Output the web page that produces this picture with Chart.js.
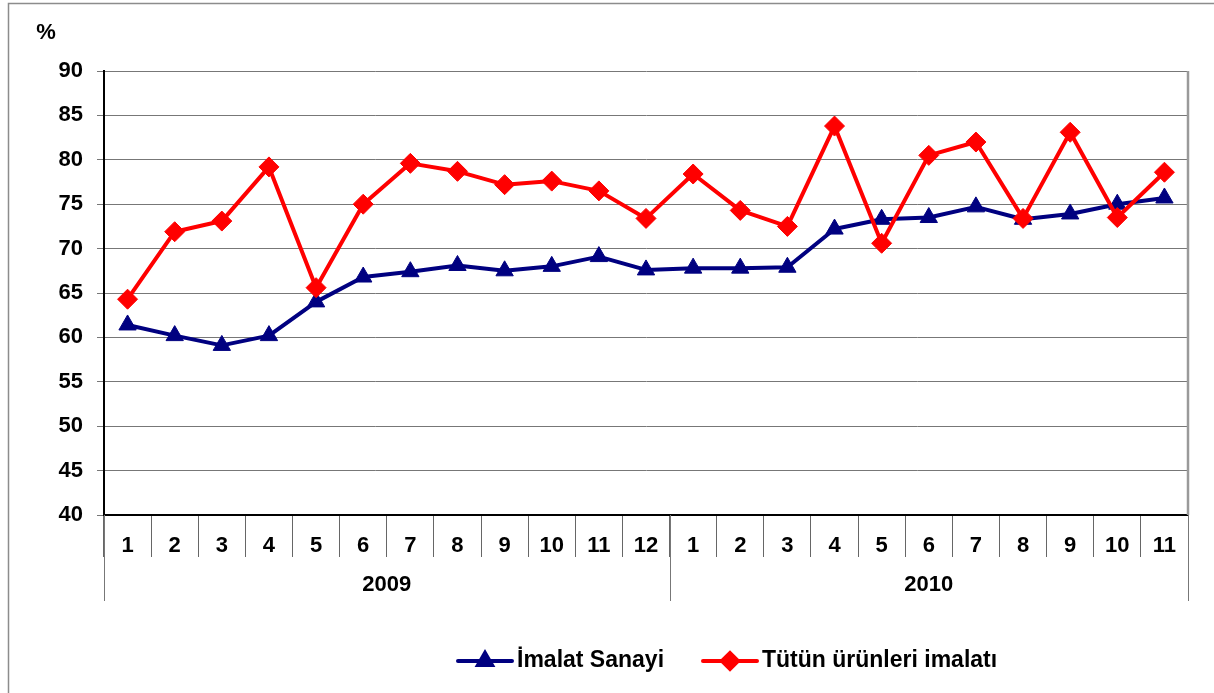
<!DOCTYPE html>
<html>
<head>
<meta charset="utf-8">
<script src="https://cdn.jsdelivr.net/npm/chart.js@4/dist/chart.umd.min.js"></script>
<style>
  html, body { margin: 0; padding: 0; background: #fff; }
  #wrap { width: 1214px; height: 693px; position: relative; }
</style>
</head>
<body>
<div id="wrap"><canvas id="chart"></canvas></div>
<script>
// Chart data
const months = ['1', '2', '3', '4', '5', '6', '7', '8', '9', '10', '11', '12',
                '1', '2', '3', '4', '5', '6', '7', '8', '9', '10', '11'];
const years = ['2009', '2010'];
const yearSpans = [12, 11];   // number of months in each year group

const imalatSanayi = [61.4, 60.2, 59.1, 60.2, 64.0, 66.8, 67.4, 68.1, 67.5, 68.0, 69.1, 67.6,
                      67.8, 67.8, 67.9, 72.2, 73.3, 73.5, 74.7, 73.3, 73.9, 75.0, 75.7];
const tutunUrunleri = [64.3, 71.9, 73.1, 79.2, 65.6, 75.0, 79.6, 78.7, 77.2, 77.6, 76.5, 73.4,
                       78.4, 74.3, 72.5, 83.8, 70.6, 80.5, 82.0, 73.4, 83.1, 73.5, 78.6];

const FONT = '"Liberation Sans", Arial, sans-serif';

// Frame, year row, unit label and legend
const extrasPlugin = {
  id: 'extras',
  beforeDraw(chart) {
    const ctx = chart.ctx;
    ctx.save();
    ctx.strokeStyle = '#8c8c8c';
    ctx.lineWidth = 1.5;
    ctx.strokeRect(8.5, 3.5, 1400, 900);
    ctx.restore();
  },
  afterDraw(chart) {
    const ctx = chart.ctx;
    const x = chart.scales.x;
    const area = chart.chartArea;
    const step = (x.right - x.left) / months.length;

    ctx.save();
    // plot right border
    ctx.strokeStyle = '#9a9a9a';
    ctx.lineWidth = 2.5;
    ctx.beginPath();
    ctx.moveTo(area.right, area.top);
    ctx.lineTo(area.right, area.bottom);
    ctx.stroke();

    // year group separators and labels
    ctx.strokeStyle = '#777';
    ctx.lineWidth = 1;
    ctx.fillStyle = '#000';
    ctx.font = 'bold 22px ' + FONT;
    ctx.textAlign = 'center';
    ctx.textBaseline = 'middle';
    let start = 0;
    const bounds = [x.left];
    years.forEach((yr, i) => {
      const end = start + yearSpans[i];
      const l = x.left + start * step;
      const r = x.left + end * step;
      bounds.push(r);
      ctx.fillText(yr, (l + r) / 2, 585);
      start = end;
    });
    bounds.forEach(bx => {
      const px = Math.round(bx) + 0.5;
      ctx.beginPath();
      ctx.moveTo(px, area.bottom);
      ctx.lineTo(px, 601);
      ctx.stroke();
    });

    // unit label
    ctx.fillText('%', 46, 33);

    // legend
    const items = [
      { ds: chart.data.datasets[0], x: 458 },
      { ds: chart.data.datasets[1], x: 703 }
    ];
    const ly = 661;
    items.forEach(it => {
      ctx.strokeStyle = it.ds.borderColor;
      ctx.lineWidth = 4;
      ctx.lineCap = 'round';
      ctx.beginPath();
      ctx.moveTo(it.x, ly);
      ctx.lineTo(it.x + 54, ly);
      ctx.stroke();
      Chart.helpers.drawPoint(ctx, {
        pointStyle: it.ds.pointStyle,
        radius: 8,
        borderWidth: 1
      }, it.x + 27, ly);
      ctx.fillStyle = it.ds.backgroundColor;
      ctx.strokeStyle = it.ds.borderColor;
      ctx.fill();
      ctx.fillStyle = '#000';
      ctx.font = 'bold 23px ' + FONT;
      ctx.textAlign = 'left';
      ctx.fillText(it.ds.label, it.x + 59, ly);
    });
    ctx.restore();
  }
};

function renderChart() {
  const ctx = document.getElementById('chart');

  new Chart(ctx, {
    type: 'line',
    data: {
      labels: months,
      datasets: [
        {
          label: 'İmalat Sanayi',
          data: imalatSanayi,
          order: 2,
          borderColor: '#000080',
          backgroundColor: '#000080',
          borderWidth: 4,
          pointStyle: 'triangle',
          pointRadius: 10,
          pointBorderWidth: 1,
          borderJoinStyle: 'round',
          tension: 0
        },
        {
          label: 'Tütün ürünleri imalatı',
          data: tutunUrunleri,
          order: 1,
          borderColor: '#ff0000',
          backgroundColor: '#ff0000',
          borderWidth: 4,
          pointStyle: 'rectRot',
          pointRadius: 10,
          pointBorderWidth: 1,
          borderJoinStyle: 'round',
          tension: 0
        }
      ]
    },
    options: {
      responsive: true,
      maintainAspectRatio: false,
      animation: false,
      layout: {
        padding: { top: 71, right: 26, bottom: 92, left: 0 }
      },
      plugins: {
        legend: { display: false },
        tooltip: { enabled: false }
      },
      scales: {
        x: {
          type: 'category',
          offset: true,
          afterFit: (scale) => { scale.height = 86; },
          grid: {
            offset: true,
            drawOnChartArea: false,
            tickLength: 42,
            color: '#666',
            lineWidth: 1
          },
          border: { color: '#000', width: 2 },
          ticks: {
            autoSkip: false,
            maxRotation: 0,
            padding: -24,
            color: '#000',
            font: { family: FONT, size: 22, weight: 'bold' }
          }
        },
        y: {
          min: 40,
          max: 90,
          afterFit: (scale) => { scale.width = 104; },
          grid: {
            color: '#777',
            lineWidth: 1,
            tickLength: 7
          },
          border: { color: '#000', width: 2 },
          ticks: {
            stepSize: 5,
            padding: 14,
            color: '#000',
            font: { family: FONT, size: 22, weight: 'bold' }
          }
        }
      }
    },
    plugins: [extrasPlugin]
  });
}

renderChart();
</script>
</body>
</html>
